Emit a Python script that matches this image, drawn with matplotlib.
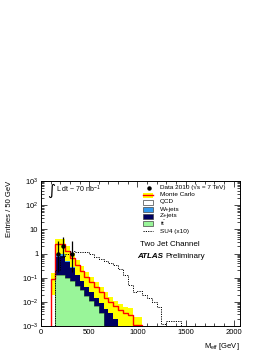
import numpy as np
import matplotlib
matplotlib.use("Agg")
import matplotlib.pyplot as plt
from matplotlib.patches import Rectangle
from matplotlib.ticker import FixedLocator, FixedFormatter, MultipleLocator, LogLocator, NullFormatter

plt.rcParams['font.family'] = ['Liberation Sans', 'DejaVu Sans']
plt.rcParams['mathtext.fontset'] = 'custom'
plt.rcParams['mathtext.rm'] = 'Liberation Sans'
plt.rcParams['mathtext.it'] = 'Liberation Sans:italic'
plt.rcParams['mathtext.bf'] = 'Liberation Sans:bold'

# ---------------- data ----------------
# MC bin edges (GeV), 50 GeV bins
mc_edges = [100, 150, 200, 250, 300, 350, 400, 450, 500, 550, 600, 650, 700,
            750, 800, 850, 900, 950, 1000, 1050]
ttbar = [0, 0.13, 0.13, 0.10, 0.07, 0.045, 0.030, 0.018, 0.011, 0.0065, 0.0035,
         0, 0, 0, 0, 0, 0, 0, 0]
zjets = [0, 0.57, 0.67, 0.35, 0.18, 0.095, 0.05, 0.032, 0.019, 0.0115, 0.0075,
         0.007, 0.004, 0.0025, 0, 0, 0, 0, 0]
wjets = [0, 1.30, 1.20, 0.55, 0.25, 0.12, 0.07, 0.04, 0.025, 0.015, 0.01,
         0.006, 0.005, 0.003, 0.004, 0.003, 0.0028, 0.0008, 0.0008]
qcd = [0.09, 0.40, 0.40, 0.30, 0.15, 0.07, 0.04, 0.02, 0.01, 0.007, 0.004,
       0.002, 0.001, 0.001, 0.0005, 0.0003, 0, 0.00025, 0.00025]
mc_err = [0.07, 1.4, 1.4, 0.8, 0.38, 0.2, 0.115, 0.068, 0.04, 0.025, 0.016,
          0.01, 0.0065, 0.0045, 0.004, 0.003, 0.003, 0.0012, 0.0012]

# SU4 (x10)
su4_edges = [150, 200, 250, 300, 350, 400, 450, 500, 550, 600, 650, 700, 750,
             800, 850, 900, 950, 1000, 1050, 1100, 1150, 1200, 1250, 1300,
             1350, 1400, 1450]
su4 = [0.2, 0.75, 1.0, 1.25, 1.2, 1.2, 1.1, 0.95, 0.75, 0.6, 0.5, 0.4, 0.32,
       0.22, 0.13, 0.05, 0.025, 0.028, 0.02, 0.015, 0.01, 0.006, 0.0012,
       0.0016, 0.0016, 0.0016]

# data
data_x = [175, 225, 325]
data_y = [1, 2, 1]
data_err_lo = [0.83, 1.29, 0.83]
data_err_hi = [2.30, 2.64, 2.30]

xticks = [0, 500, 1000, 1500, 2000]
yticks = [1e-3, 1e-2, 1e-1, 1, 10, 1e2, 1e3]
ytick_labels = [r'$10^{-3}$', r'$10^{-2}$', r'$10^{-1}$', '1', '10',
                r'$10^{2}$', r'$10^{3}$']

# ---------------- plot ----------------
W, H = 274, 355
fig = plt.figure(figsize=(W / 100, H / 100), dpi=100)
ax = fig.add_axes([41 / W, 1 - 326 / H, 199 / W, 145 / H])
ax.set_yscale('log')
ax.set_xlim(0, 2065)
ax.set_ylim(1e-3, 1e3)

floor = 1e-6
c1 = np.array(ttbar)
c2 = c1 + np.array(zjets)
c3 = c2 + np.array(wjets)
c4 = c3 + np.array(qcd)
total = c4

col_qcd = 'white'
col_w = '#3399ee'
col_z = '#000060'
col_tt = '#99f599'

ax.stairs(c4, mc_edges, baseline=floor, fill=True, color=col_qcd, zorder=1)
ax.stairs(c3, mc_edges, baseline=floor, fill=True, color=col_w, zorder=2)
ax.stairs(c2, mc_edges, baseline=floor, fill=True, color=col_z, zorder=3)
ax.stairs(np.where(c1 > 0, c1, floor), mc_edges, baseline=floor, fill=True,
          color=col_tt, zorder=4)
ax.stairs(np.where(c1 > 0, c1, floor), mc_edges, baseline=floor, fill=False,
          color='#336633', lw=0.4, zorder=4)

err = np.array(mc_err)
lo = np.clip(total - err, floor, None)
hi = total + err
ax.stairs(hi, mc_edges, baseline=lo, fill=True, color='#ffff00', zorder=5)
ax.stairs(total, mc_edges, baseline=floor, color='#ff0000', lw=1.0, zorder=6)

ax.stairs(su4, su4_edges, baseline=floor, color='black', lw=0.7,
          linestyle=(0, (1.2, 1.2)), zorder=7)

ax.errorbar(data_x, data_y, yerr=[data_err_lo, data_err_hi], fmt='o',
            color='black', ms=2.2, elinewidth=0.9, capsize=0, zorder=8)

# ticks
ax.xaxis.set_major_locator(FixedLocator(xticks))
ax.xaxis.set_minor_locator(MultipleLocator(100))
ax.yaxis.set_major_locator(FixedLocator(yticks))
ax.yaxis.set_major_formatter(FixedFormatter(ytick_labels))
ax.yaxis.set_minor_locator(LogLocator(base=10, subs=np.arange(2, 10), numticks=20))
ax.yaxis.set_minor_formatter(NullFormatter())
ax.tick_params(which='both', direction='in', top=True, right=True,
               labelsize=5.5, width=0.5, pad=2)
ax.tick_params(which='major', length=4)
ax.tick_params(which='minor', length=2)
for s in ax.spines.values():
    s.set_linewidth(0.7)

ax.set_xlabel(r'M$_{\mathrm{eff}}$ [GeV]', fontsize=5.5, loc='right', labelpad=4)
ax.set_ylabel('Entries / 50 GeV', fontsize=5.5, loc='top', labelpad=6)

def fx(px):
    return (px - 41) / 199.0

def fy(py):
    return (326 - py) / 145.0

# luminosity
ax.text(fx(47.5), fy(190.5), '\u222b', fontsize=11, ha='left', va='center',
        transform=ax.transAxes, family=['DejaVu Sans'])
ax.text(fx(56), fy(189.5), r'L dt ~ 70 nb$^{-1}$', fontsize=5, ha='left',
        va='center', transform=ax.transAxes)

# legend
rows = [187.5, 195, 202, 209, 216, 223, 231]
labels = ['Data 2010 (\u221as = 7 TeV)', 'Monte Carlo', 'QCD', 'W+jets',
          'Z+jets', r'$\mathrm{t\bar{t}}$', 'SU4 (x10)']
bx0, bx1 = 143.5, 153.5
bh = 5.0
for i, (r, lab) in enumerate(zip(rows, labels)):
    ax.text(fx(160), fy(r), lab, fontsize=4.6, ha='left', va='center',
            transform=ax.transAxes)
    if i == 0:
        ax.plot([fx(149)], [fy(r)], 'o', color='black', ms=2.2,
                transform=ax.transAxes, clip_on=False)
    elif i == 1:
        ax.add_patch(Rectangle((fx(bx0), fy(r + bh / 2)), fx(bx1) - fx(bx0),
                               bh / 145.0, transform=ax.transAxes,
                               facecolor='#ffff00', edgecolor='none'))
        ax.plot([fx(bx0), fx(bx1)], [fy(r), fy(r)], color='#ff0000', lw=1.0,
                transform=ax.transAxes)
    elif i == 6:
        ax.plot([fx(bx0), fx(bx1)], [fy(r), fy(r)], color='black', lw=0.7,
                linestyle=(0, (1.2, 1.2)), transform=ax.transAxes)
    else:
        fc = [None, None, 'white', col_w, col_z, col_tt][i]
        ax.add_patch(Rectangle((fx(bx0), fy(r + bh / 2)), fx(bx1) - fx(bx0),
                               bh / 145.0, transform=ax.transAxes,
                               facecolor=fc, edgecolor='#444444', lw=0.5))

ax.text(fx(140), fy(245), 'Two Jet Channel', fontsize=5.8, ha='left',
        va='center', transform=ax.transAxes)
t_atlas = ax.text(fx(137), fy(256.5), 'ATLAS', fontsize=5.8, ha='left',
                  va='center', transform=ax.transAxes, fontweight='bold',
                  fontstyle='italic')
fig.canvas.draw()
bb = t_atlas.get_window_extent(fig.canvas.get_renderer())
x_end_px = bb.x1 + 2.0
xa = ax.transAxes.inverted().transform((x_end_px, bb.y0))[0]
ax.text(xa, fy(256.5), 'Preliminary', fontsize=5.8, ha='left',
        va='center', transform=ax.transAxes)

fig.savefig('out.png', dpi=100)
